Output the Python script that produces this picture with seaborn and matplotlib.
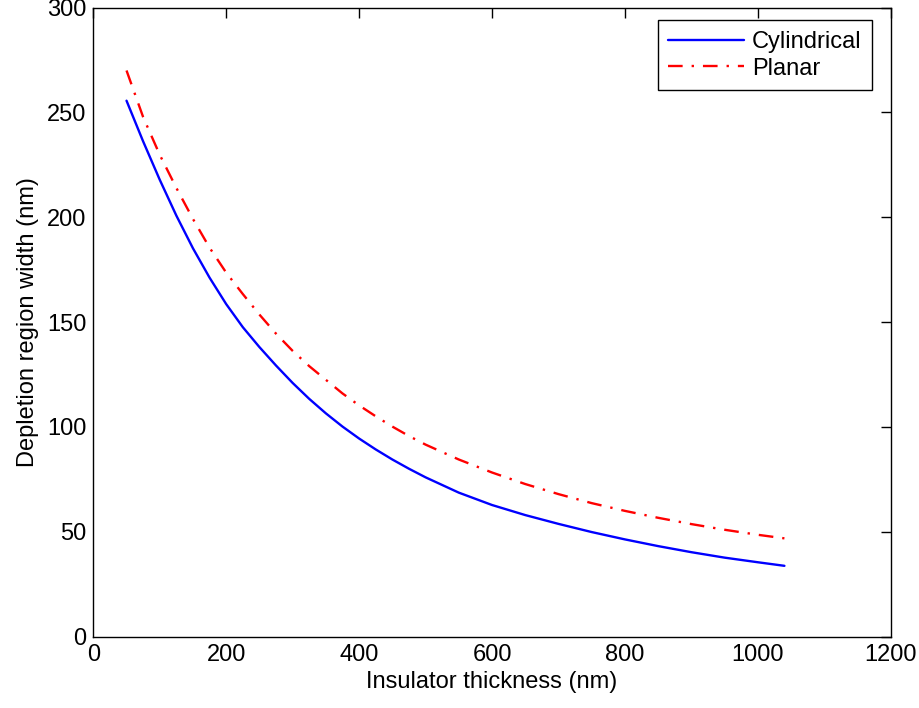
import matplotlib
matplotlib.use("Agg")
import matplotlib.pyplot as plt
import seaborn as sns
import pandas as pd

# Data
thickness = [50, 75, 100, 125, 150, 175, 200, 225, 250, 275, 300, 325, 350, 375,
             400, 425, 450, 475, 500, 550, 600, 650, 700, 750, 800, 850, 900,
             950, 1000, 1040]
cylindrical = [255.6, 236.2, 217.9, 200.8, 185.2, 171.2, 158.6, 147.6, 138.1,
               129.3, 121.0, 113.4, 106.5, 100.2, 94.5, 89.3, 84.5, 80.1, 76.0,
               68.7, 62.8, 58.0, 53.8, 49.9, 46.4, 43.2, 40.3, 37.7, 35.5, 33.8]
planar = [270.0, 247.8, 229.8, 214.0, 199.2, 185.5, 173.6, 163.4, 153.6, 144.5,
          136.3, 129.0, 122.5, 116.0, 110.3, 105.1, 100.2, 95.7, 91.6, 84.5,
          78.3, 72.8, 68.0, 63.7, 60.0, 56.7, 53.7, 51.0, 48.6, 46.9]

x_ticks = [0, 200, 400, 600, 800, 1000, 1200]
y_ticks = [0, 50, 100, 150, 200, 250, 300]

sns.set_style("white")
plt.rcParams['font.family'] = ['Liberation Sans', 'DejaVu Sans']
plt.rcParams['text.color'] = 'black'
plt.rcParams['axes.labelcolor'] = 'black'
plt.rcParams['xtick.color'] = 'black'
plt.rcParams['ytick.color'] = 'black'

fig = plt.figure(figsize=(9.2, 7.08), dpi=100)
ax = fig.add_axes([0.1014, 0.1007, 0.8668, 0.8886])

df_c = pd.DataFrame({"x": thickness, "y": cylindrical})
df_p = pd.DataFrame({"x": thickness, "y": planar})

sns.lineplot(data=df_c, x="x", y="y", ax=ax, color="#0000ff", lw=1.7,
             label="Cylindrical")
sns.lineplot(data=df_p, x="x", y="y", ax=ax, color="#ff0000", lw=1.7,
             label="Planar")
ax.lines[1].set_linestyle((0, (6.2, 3.8, 1.0, 3.8)))

ax.set_xlim(0, 1200)
ax.set_ylim(0, 300)
ax.set_xticks(x_ticks)
ax.set_yticks(y_ticks)
ax.set_xticklabels([str(t) for t in x_ticks])
ax.set_yticklabels([str(t) for t in y_ticks])

ax.tick_params(direction="in", top=True, right=True, length=7, width=1,
               labelsize=17, colors="black", pad=5)
for s in ax.spines.values():
    s.set_visible(True)
    s.set_color("black")
    s.set_linewidth(1.0)

ax.set_xlabel("Insulator thickness (nm)", fontsize=17, labelpad=4, color="black")
ax.set_ylabel("Depletion region width (nm)", fontsize=17, labelpad=6, color="black")

leg = ax.legend(loc="upper right", bbox_to_anchor=(0.977, 0.980), fontsize=17,
                frameon=True, fancybox=False, edgecolor="black",
                handlelength=3.2, handletextpad=0.35, borderpad=0.45,
                labelspacing=0.2, borderaxespad=0)
leg.get_frame().set_linewidth(1.0)
leg.get_frame().set_alpha(1)
for t in leg.get_texts():
    t.set_color("black")

fig.savefig("out.png", dpi=100)
